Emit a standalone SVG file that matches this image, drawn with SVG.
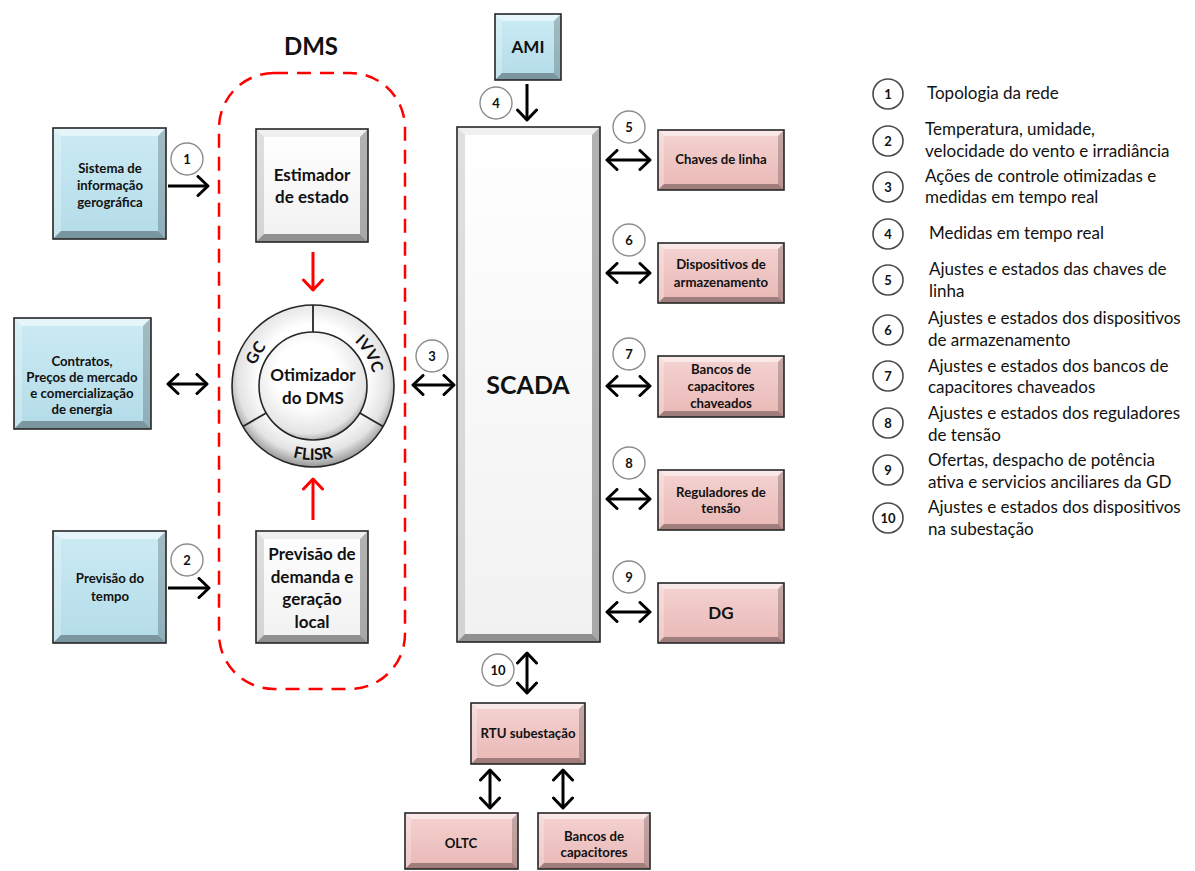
<svg xmlns="http://www.w3.org/2000/svg" width="1195" height="871" viewBox="0 0 1195 871">
  <defs>
    <style>
      text { font-family: Lato, "Liberation Sans", sans-serif; fill: #111; }
      .lbl { font-weight: 700; font-size: 13.2px; text-anchor: middle; }
      .big { font-weight: 700; font-size: 17px; text-anchor: middle; }
      .num { font-weight: 700; font-size: 13px; text-anchor: middle; }
      .leg { font-weight: 400; font-size: 17px; }
      .edge { fill: none; stroke: #262626; stroke-width: 1.6; }
      .bt { fill: #fff; opacity: .5; }
      .bl { fill: #fff; opacity: .25; }
      .br { fill: #000; opacity: .2; }
      .bb { fill: #000; opacity: .32; }
      .wbox .bt { fill: #000; opacity: .06; }
      .wbox .bl { fill: #000; opacity: .12; }
      .wbox .br { fill: #000; opacity: .3; }
      .wbox .bb { fill: #000; opacity: .4; }
      .blue { fill: url(#gBlue); }
      .pink { fill: url(#gPink); }
      .white { fill: url(#gWhite); }
      .tag { fill: #fff; stroke: #8c8c8c; stroke-width: 1.4; }
      .ltag { fill: #fff; stroke: #4a4a4a; stroke-width: 1.6; }
      .arr { fill: none; stroke: #000; stroke-width: 3; }
      .arr-red { fill: none; stroke: #f00; stroke-width: 3; }
      .ring { font-weight: 700; font-size: 16px; }
    </style>
    <linearGradient id="gBlue" x1="0" y1="0" x2="0" y2="1">
      <stop offset="0" stop-color="#ccebf4"/>
      <stop offset="1" stop-color="#b3dce8"/>
    </linearGradient>
    <linearGradient id="gPink" x1="0" y1="0" x2="0" y2="1">
      <stop offset="0" stop-color="#f4d3d1"/>
      <stop offset="1" stop-color="#e9b8b6"/>
    </linearGradient>
    <linearGradient id="gWhite" x1="0" y1="0" x2="0" y2="1">
      <stop offset="0" stop-color="#ffffff"/>
      <stop offset="1" stop-color="#f1f1f1"/>
    </linearGradient>
    <radialGradient id="gRing" cx="0.5" cy="0.45" r="0.55">
      <stop offset="0.6" stop-color="#ffffff"/>
      <stop offset="0.85" stop-color="#e3e3e3"/>
      <stop offset="1" stop-color="#959595"/>
    </radialGradient>
    <radialGradient id="gDisk" cx="0.45" cy="0.4" r="0.6">
      <stop offset="0.5" stop-color="#ffffff"/>
      <stop offset="0.9" stop-color="#e4e4e4"/>
      <stop offset="1" stop-color="#b5b5b5"/>
    </radialGradient>
    <marker id="ah" viewBox="0 0 14 22" refX="12" refY="11" markerWidth="14" markerHeight="22" markerUnits="userSpaceOnUse" orient="auto-start-reverse">
      <path d="M2,1.5 L12,11 L2,20.5" fill="none" stroke="#000" stroke-width="3" stroke-linecap="round" stroke-linejoin="round"/>
    </marker>
    <marker id="ahr" viewBox="0 0 14 22" refX="12" refY="11" markerWidth="14" markerHeight="22" markerUnits="userSpaceOnUse" orient="auto-start-reverse">
      <path d="M2,1.5 L12,11 L2,20.5" fill="none" stroke="#f00" stroke-width="3" stroke-linecap="round" stroke-linejoin="round"/>
    </marker>
    <path id="arcTop" d="M252,386 A61,61 0 1 1 374,386 A61,61 0 1 1 252,386"/>
    <path id="arcBot" d="M239,386 A74,74 0 0 0 387,386"/>
  </defs>

  <rect width="1195" height="871" fill="#fff"/>

  <!-- DMS boundary -->
  <g id="dms">
    <text x="311" y="55" style="font-weight:700;font-size:24px;text-anchor:middle">DMS</text>
    <rect x="219" y="73" width="186" height="616" rx="55" fill="none" stroke="#f00" stroke-width="2.5" stroke-dasharray="14 9"/>
  </g>

  <!-- input boxes -->
  <g id="sig">
    <rect class="blue" x="53" y="128" width="113" height="111"/>
    <polygon class="bt" points="53,128 166,128 158,136 61,136"/>
    <polygon class="bl" points="53,128 61,136 61,231 53,239"/>
    <polygon class="br" points="166,128 166,239 158,231 158,136"/>
    <polygon class="bb" points="53,239 61,231 158,231 166,239"/>
    <rect class="edge" x="53" y="128" width="113" height="111"/>
    <text class="lbl" x="110" y="173">Sistema de</text>
    <text class="lbl" x="110" y="190">informação</text>
    <text class="lbl" x="110" y="207">gerográfica</text>
  </g>

  <g id="contratos">
    <rect class="blue" x="14" y="318" width="137" height="111"/>
    <polygon class="bt" points="14,318 151,318 143,326 22,326"/>
    <polygon class="bl" points="14,318 22,326 22,421 14,429"/>
    <polygon class="br" points="151,318 151,429 143,421 143,326"/>
    <polygon class="bb" points="14,429 22,421 143,421 151,429"/>
    <rect class="edge" x="14" y="318" width="137" height="111"/>
    <text class="lbl" x="82" y="366">Contratos,</text>
    <text class="lbl" x="82" y="382">Preços de mercado</text>
    <text class="lbl" x="82" y="398">e comercialização</text>
    <text class="lbl" x="82" y="414">de energia</text>
  </g>

  <g id="tempo">
    <rect class="blue" x="53" y="531" width="113" height="112"/>
    <polygon class="bt" points="53,531 166,531 158,539 61,539"/>
    <polygon class="bl" points="53,531 61,539 61,635 53,643"/>
    <polygon class="br" points="166,531 166,643 158,635 158,539"/>
    <polygon class="bb" points="53,643 61,635 158,635 166,643"/>
    <rect class="edge" x="53" y="531" width="113" height="112"/>
    <text class="lbl" x="110" y="583">Previsão do</text>
    <text class="lbl" x="110" y="601">tempo</text>
  </g>

  <!-- DMS modules -->
  <g id="estimador" class="wbox">
    <rect class="white" x="256" y="129" width="112" height="113"/>
    <polygon class="bt" points="256,129 368,129 360,137 264,137"/>
    <polygon class="bl" points="256,129 264,137 264,234 256,242"/>
    <polygon class="br" points="368,129 368,242 360,234 360,137"/>
    <polygon class="bb" points="256,242 264,234 360,234 368,242"/>
    <rect class="edge" x="256" y="129" width="112" height="113"/>
    <text class="big" x="312" y="181">Estimador</text>
    <text class="big" x="312" y="203">de estado</text>
  </g>

  <g id="otimizador">
    <circle cx="313" cy="386" r="81" fill="url(#gRing)" stroke="#262626" stroke-width="1.6"/>
    <circle cx="313" cy="386" r="54" fill="url(#gDisk)" stroke="#262626" stroke-width="1.6"/>
    <g stroke="#262626" stroke-width="1.8">
      <line x1="313" y1="332" x2="313" y2="305"/>
      <line x1="359.8" y1="413" x2="383.1" y2="426.5"/>
      <line x1="266.2" y1="413" x2="242.9" y2="426.5"/>
    </g>
    <text class="ring"><textPath href="#arcTop" startOffset="31.9" text-anchor="middle">GC</textPath></text>
    <text class="ring"><textPath href="#arcTop" startOffset="159.7" text-anchor="middle">IVVC</textPath></text>
    <text class="ring"><textPath href="#arcBot" startOffset="50%" text-anchor="middle">FLISR</textPath></text>
    <text class="big" x="313" y="381">Otimizador</text>
    <text class="big" x="313" y="404">do DMS</text>
  </g>

  <g id="previsao" class="wbox">
    <rect class="white" x="256" y="531" width="112" height="112"/>
    <polygon class="bt" points="256,531 368,531 360,539 264,539"/>
    <polygon class="bl" points="256,531 264,539 264,635 256,643"/>
    <polygon class="br" points="368,531 368,643 360,635 360,539"/>
    <polygon class="bb" points="256,643 264,635 360,635 368,643"/>
    <rect class="edge" x="256" y="531" width="112" height="112"/>
    <text class="big" x="312" y="560">Previsão de</text>
    <text class="big" x="312" y="583">demanda e</text>
    <text class="big" x="312" y="605">geração</text>
    <text class="big" x="312" y="628">local</text>
  </g>

  <!-- SCADA and field devices -->
  <g id="ami">
    <rect class="blue" x="495" y="14" width="66" height="66"/>
    <polygon class="bt" points="495,14 561,14 554,21 502,21"/>
    <polygon class="bl" points="495,14 502,21 502,73 495,80"/>
    <polygon class="br" points="561,14 561,80 554,73 554,21"/>
    <polygon class="bb" points="495,80 502,73 554,73 561,80"/>
    <rect class="edge" x="495" y="14" width="66" height="66"/>
    <text class="big" x="528" y="53">AMI</text>
  </g>

  <g id="scada" class="wbox">
    <rect class="white" x="457" y="127" width="143" height="515"/>
    <polygon class="bt" points="457,127 600,127 592,135 465,135"/>
    <polygon class="bl" points="457,127 465,135 465,634 457,642"/>
    <polygon class="br" points="600,127 600,642 592,634 592,135"/>
    <polygon class="bb" points="457,642 465,634 592,634 600,642"/>
    <rect class="edge" x="457" y="127" width="143" height="515"/>
    <text x="528" y="394" style="font-weight:700;font-size:25px;text-anchor:middle">SCADA</text>
  </g>

  <g id="chaves">
    <rect class="pink" x="658" y="130" width="126" height="60"/>
    <polygon class="bt" points="658,130 784,130 778,136 664,136"/>
    <polygon class="bl" points="658,130 664,136 664,184 658,190"/>
    <polygon class="br" points="784,130 784,190 778,184 778,136"/>
    <polygon class="bb" points="658,190 664,184 778,184 784,190"/>
    <rect class="edge" x="658" y="130" width="126" height="60"/>
    <text class="lbl" x="721" y="164">Chaves de linha</text>
  </g>

  <g id="armazenamento">
    <rect class="pink" x="658" y="243" width="126" height="60"/>
    <polygon class="bt" points="658,243 784,243 778,249 664,249"/>
    <polygon class="bl" points="658,243 664,249 664,297 658,303"/>
    <polygon class="br" points="784,243 784,303 778,297 778,249"/>
    <polygon class="bb" points="658,303 664,297 778,297 784,303"/>
    <rect class="edge" x="658" y="243" width="126" height="60"/>
    <text class="lbl" x="721" y="269">Dispositivos de</text>
    <text class="lbl" x="721" y="287">armazenamento</text>
  </g>

  <g id="capacitores-chaveados">
    <rect class="pink" x="658" y="356" width="126" height="61"/>
    <polygon class="bt" points="658,356 784,356 778,362 664,362"/>
    <polygon class="bl" points="658,356 664,362 664,411 658,417"/>
    <polygon class="br" points="784,356 784,417 778,411 778,362"/>
    <polygon class="bb" points="658,417 664,411 778,411 784,417"/>
    <rect class="edge" x="658" y="356" width="126" height="61"/>
    <text class="lbl" x="721" y="374">Bancos de</text>
    <text class="lbl" x="721" y="391">capacitores</text>
    <text class="lbl" x="721" y="408">chaveados</text>
  </g>

  <g id="reguladores">
    <rect class="pink" x="658" y="470" width="126" height="60"/>
    <polygon class="bt" points="658,470 784,470 778,476 664,476"/>
    <polygon class="bl" points="658,470 664,476 664,524 658,530"/>
    <polygon class="br" points="784,470 784,530 778,524 778,476"/>
    <polygon class="bb" points="658,530 664,524 778,524 784,530"/>
    <rect class="edge" x="658" y="470" width="126" height="60"/>
    <text class="lbl" x="721" y="497">Reguladores de</text>
    <text class="lbl" x="721" y="513">tensão</text>
  </g>

  <g id="dg">
    <rect class="pink" x="658" y="583" width="126" height="60"/>
    <polygon class="bt" points="658,583 784,583 778,589 664,589"/>
    <polygon class="bl" points="658,583 664,589 664,637 658,643"/>
    <polygon class="br" points="784,583 784,643 778,637 778,589"/>
    <polygon class="bb" points="658,643 664,637 778,637 784,643"/>
    <rect class="edge" x="658" y="583" width="126" height="60"/>
    <text class="big" x="721" y="619">DG</text>
  </g>

  <g id="rtu">
    <rect class="pink" x="471" y="703" width="114" height="61"/>
    <polygon class="bt" points="471,703 585,703 579,709 477,709"/>
    <polygon class="bl" points="471,703 477,709 477,758 471,764"/>
    <polygon class="br" points="585,703 585,764 579,758 579,709"/>
    <polygon class="bb" points="471,764 477,758 579,758 585,764"/>
    <rect class="edge" x="471" y="703" width="114" height="61"/>
    <text class="lbl" x="528" y="738">RTU subestação</text>
  </g>

  <g id="oltc">
    <rect class="pink" x="405" y="813" width="113" height="56"/>
    <polygon class="bt" points="405,813 518,813 512,819 411,819"/>
    <polygon class="bl" points="405,813 411,819 411,863 405,869"/>
    <polygon class="br" points="518,813 518,869 512,863 512,819"/>
    <polygon class="bb" points="405,869 411,863 512,863 518,869"/>
    <rect class="edge" x="405" y="813" width="113" height="56"/>
    <text class="lbl" x="461" y="848">OLTC</text>
  </g>

  <g id="bancos-capacitores">
    <rect class="pink" x="538" y="813" width="112" height="56"/>
    <polygon class="bt" points="538,813 650,813 644,819 544,819"/>
    <polygon class="bl" points="538,813 544,819 544,863 538,869"/>
    <polygon class="br" points="650,813 650,869 644,863 644,819"/>
    <polygon class="bb" points="538,869 544,863 644,863 650,869"/>
    <rect class="edge" x="538" y="813" width="112" height="56"/>
    <text class="lbl" x="594" y="841">Bancos de</text>
    <text class="lbl" x="594" y="857">capacitores</text>
  </g>

  <!-- connectors -->
  <g id="connectors">
    <line class="arr" x1="168" y1="186" x2="208" y2="186" marker-end="url(#ah)"/>
    <line class="arr" x1="168" y1="384" x2="207" y2="384" marker-start="url(#ah)" marker-end="url(#ah)"/>
    <line class="arr" x1="168" y1="588" x2="209" y2="588" marker-end="url(#ah)"/>
    <line class="arr-red" x1="313" y1="252" x2="313" y2="290" marker-end="url(#ahr)"/>
    <line class="arr-red" x1="313" y1="520" x2="313" y2="479" marker-end="url(#ahr)"/>
    <line class="arr" x1="413" y1="385" x2="454" y2="385" marker-start="url(#ah)" marker-end="url(#ah)"/>
    <line class="arr" x1="527" y1="84" x2="527" y2="120" marker-end="url(#ah)"/>
    <line class="arr" x1="607" y1="160" x2="650" y2="160" marker-start="url(#ah)" marker-end="url(#ah)"/>
    <line class="arr" x1="607" y1="273" x2="650" y2="273" marker-start="url(#ah)" marker-end="url(#ah)"/>
    <line class="arr" x1="607" y1="386" x2="650" y2="386" marker-start="url(#ah)" marker-end="url(#ah)"/>
    <line class="arr" x1="607" y1="499" x2="650" y2="499" marker-start="url(#ah)" marker-end="url(#ah)"/>
    <line class="arr" x1="607" y1="612" x2="650" y2="612" marker-start="url(#ah)" marker-end="url(#ah)"/>
    <line class="arr" x1="527" y1="653" x2="527" y2="693" marker-start="url(#ah)" marker-end="url(#ah)"/>
    <line class="arr" x1="490" y1="770" x2="490" y2="808" marker-start="url(#ah)" marker-end="url(#ah)"/>
    <line class="arr" x1="563" y1="770" x2="563" y2="808" marker-start="url(#ah)" marker-end="url(#ah)"/>

    <!-- numbered flow tags -->
    <g id="tags">
      <circle class="tag" cx="187" cy="159" r="16"/><text class="num" x="187" y="164">1</text>
      <circle class="tag" cx="187" cy="560" r="16"/><text class="num" x="187" y="565">2</text>
      <circle class="tag" cx="432" cy="356" r="16"/><text class="num" x="432" y="361">3</text>
      <circle class="tag" cx="496" cy="103" r="16"/><text class="num" x="496" y="108">4</text>
      <circle class="tag" cx="629" cy="127" r="16"/><text class="num" x="629" y="132">5</text>
      <circle class="tag" cx="629" cy="240" r="16"/><text class="num" x="629" y="245">6</text>
      <circle class="tag" cx="629" cy="354" r="16"/><text class="num" x="629" y="359">7</text>
      <circle class="tag" cx="629" cy="463" r="16"/><text class="num" x="629" y="468">8</text>
      <circle class="tag" cx="629" cy="577" r="16"/><text class="num" x="629" y="582">9</text>
      <circle class="tag" cx="498" cy="670" r="16"/><text class="num" x="498" y="675">10</text>
    </g>
  </g>

  <!-- legend -->
  <g id="legend">
    <circle class="ltag" cx="888" cy="94" r="15"/><text class="num" x="888" y="99">1</text>
    <text class="leg" x="927" y="99">Topologia da rede</text>

    <circle class="ltag" cx="888" cy="141" r="15"/><text class="num" x="888" y="146">2</text>
    <text class="leg" x="925" y="135">Temperatura, umidade,</text>
    <text class="leg" x="925" y="157">velocidade do vento e irradiância</text>

    <circle class="ltag" cx="888" cy="187" r="15"/><text class="num" x="888" y="192">3</text>
    <text class="leg" x="925" y="182">Ações de controle otimizadas e</text>
    <text class="leg" x="925" y="203">medidas em tempo real</text>

    <circle class="ltag" cx="888" cy="234" r="15"/><text class="num" x="888" y="239">4</text>
    <text class="leg" x="929" y="239">Medidas em tempo real</text>

    <circle class="ltag" cx="888" cy="280" r="15"/><text class="num" x="888" y="285">5</text>
    <text class="leg" x="929" y="275">Ajustes e estados das chaves de</text>
    <text class="leg" x="929" y="297">linha</text>

    <circle class="ltag" cx="888" cy="330" r="15"/><text class="num" x="888" y="335">6</text>
    <text class="leg" x="928" y="324">Ajustes e estados dos dispositivos</text>
    <text class="leg" x="928" y="346">de armazenamento</text>

    <circle class="ltag" cx="888" cy="376" r="15"/><text class="num" x="888" y="381">7</text>
    <text class="leg" x="928" y="372">Ajustes e estados dos bancos de</text>
    <text class="leg" x="928" y="393">capacitores chaveados</text>

    <circle class="ltag" cx="888" cy="423" r="15"/><text class="num" x="888" y="428">8</text>
    <text class="leg" x="928" y="419">Ajustes e estados dos reguladores</text>
    <text class="leg" x="928" y="441">de tensão</text>

    <circle class="ltag" cx="888" cy="470" r="15"/><text class="num" x="888" y="475">9</text>
    <text class="leg" x="928" y="466">Ofertas, despacho de potência</text>
    <text class="leg" x="928" y="488">ativa e servicios anciliares da GD</text>

    <circle class="ltag" cx="888" cy="518" r="15"/><text class="num" x="888" y="523">10</text>
    <text class="leg" x="928" y="513">Ajustes e estados dos dispositivos</text>
    <text class="leg" x="928" y="535">na subestação</text>
  </g>
</svg>
